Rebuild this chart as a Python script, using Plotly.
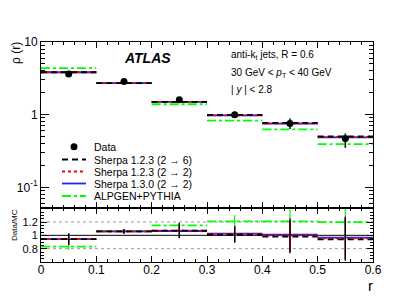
import plotly.graph_objects as go

# ---- data ----
bin_edges = [0.0, 0.1, 0.2, 0.3, 0.4, 0.5, 0.6]
bin_centers = [0.05, 0.15, 0.25, 0.35, 0.45, 0.55]
data_vals = [3.62, 2.87, 1.60, 1.00, 0.757, 0.47]
data_err_up = [0.15, 0.08, 0.06, 0.10, 0.13, 0.08]
data_err_dn = [0.15, 0.08, 0.06, 0.10, 0.12, 0.12]

sherpa26 = [3.835, 2.708, 1.495, 0.990, 0.772, 0.500]
sherpa22 = [3.835, 2.708, 1.495, 0.980, 0.757, 0.492]
sherpa130 = [3.835, 2.708, 1.502, 0.976, 0.750, 0.487]
alpgen = [4.36, 2.708, 1.391, 0.826, 0.626, 0.392]

ratio_err_sherpa = [0.085, 0.035, 0.11, 0.12, 0.25, 0.32]
ratio_err_alpgen = [0.045, 0.03, 0.05, 0.09, 0.18, 0.20]

y_ticks_top = [0.1, 1, 10]
y_ticktext_top = ["10<sup>-1</sup>", "1", "10"]
y_ticks_ratio = [0.8, 1.0, 1.2]
y_ticktext_ratio = ["0.8", "1", "1.2"]

legend_names = ["Data", "Sherpa 1.2.3 (2 \u2192 6)", "Sherpa 1.2.3 (2 \u2192 2)",
                "Sherpa 1.3.0 (2 \u2192 2)", "ALPGEN+PYTHIA"]

FONT = "Liberation Sans, Arial, Helvetica, sans-serif"

# page body has an 8px default margin: compensate so the chart sits where the reference is
OFF = 8
W, H = 415, 298
PLOT_L, PLOT_T, PLOT_R, PLOT_B = 41, 42, 373, 262   # target window pixels
ML, MT = PLOT_L - OFF, PLOT_T - OFF
PW, PH = PLOT_R - PLOT_L, PLOT_B - PLOT_T
MR, MB = W - ML - PW, H - MT - PH


def px(x):
    return (x - PLOT_L) / PW


def py(y):
    return (PLOT_B - y) / PH


def steps(vals):
    xs, ys = [], []
    for i, v in enumerate(vals):
        xs += [bin_edges[i], bin_edges[i + 1], None]
        ys += [v, v, None]
    return xs, ys


mc_styles = [
    ("ALPGEN+PYTHIA", alpgen, dict(color="#00ff00", width=1.8, dash="dashdot")),
    ("Sherpa 1.3.0", sherpa130, dict(color="#2222ff", width=1.8, dash="solid")),
    ("Sherpa 1.2.3 22", sherpa22, dict(color="#ff0000", width=1.8, dash="dot")),
    ("Sherpa 1.2.3 26", sherpa26, dict(color="black", width=1.8, dash="6px,4px")),
]

fig = go.Figure()

for name, vals, ln in mc_styles:
    xs, ys = steps(vals)
    fig.add_trace(go.Scatter(x=xs, y=ys, mode="lines", line=ln, xaxis="x", yaxis="y",
                             showlegend=False, hoverinfo="skip"))

fig.add_trace(go.Scatter(
    x=bin_centers, y=data_vals, mode="markers",
    marker=dict(color="black", size=7),
    error_y=dict(type="data", symmetric=False, array=data_err_up, arrayminus=data_err_dn,
                 color="black", thickness=1.5, width=0),
    xaxis="x", yaxis="y", showlegend=False))

# ratio panel
for name, vals, ln in mc_styles:
    ratio = [d / m for d, m in zip(data_vals, vals)]
    xs, ys = steps(ratio)
    fig.add_trace(go.Scatter(x=xs, y=ys, mode="lines", line=ln, xaxis="x2", yaxis="y2",
                             showlegend=False, hoverinfo="skip"))
    errs = ratio_err_alpgen if name.startswith("ALPGEN") else ratio_err_sherpa
    fig.add_trace(go.Scatter(
        x=bin_centers, y=ratio, mode="markers", marker=dict(size=1, color=ln["color"], opacity=0),
        error_y=dict(type="data", array=errs, color=ln["color"], thickness=1.3, width=0),
        xaxis="x2", yaxis="y2", showlegend=False, hoverinfo="skip"))

split = 54 / PH

axis_common = dict(showline=True, linecolor="black", linewidth=1, mirror="allticks",
                   ticks="inside", tickcolor="black", showgrid=False, zeroline=False,
                   tickfont=dict(family=FONT, size=12, color="black"))

fig.update_layout(
    width=W, height=H,
    margin=dict(l=ML, r=MR, t=MT, b=MB, autoexpand=False),
    paper_bgcolor="white", plot_bgcolor="white",
    showlegend=False,
    xaxis=dict(axis_common, domain=[0, 1], range=[0, 0.6], anchor="y", showticklabels=False,
               dtick=0.1, ticklen=6, minor=dict(ticks="inside", dtick=0.02, ticklen=3,
                                                  tickcolor="black")),
    yaxis=dict(axis_common, domain=[split, 1], type="log", range=[-1.285, 1], anchor="x",
               tickvals=y_ticks_top, ticktext=y_ticktext_top, ticklen=8,
               minor=dict(ticks="inside", ticklen=4, tickcolor="black", dtick="D1")),
    xaxis2=dict(axis_common, domain=[0, 1], range=[0, 0.6], anchor="y2", dtick=0.1, ticklen=6,
                ticklabelstandoff=-3,
                minor=dict(ticks="inside", dtick=0.02, ticklen=3, tickcolor="black")),
    yaxis2=dict(axis_common, domain=[0, split], range=[0.6, 1.41], anchor="x2",
                tickvals=y_ticks_ratio, ticktext=y_ticktext_ratio, ticklen=6,
                tickfont=dict(family=FONT, size=11, color="black"),
                minor=dict(ticks="inside", dtick=0.05, ticklen=3, tickcolor="black")),
)

# reference lines in ratio panel
fig.add_shape(type="line", xref="x2 domain", yref="y2", x0=0, x1=1, y0=1, y1=1,
              line=dict(color="black", width=1), layer="below")
for yv in (0.8, 1.2):
    fig.add_shape(type="line", xref="x2 domain", yref="y2", x0=0, x1=1, y0=yv, y1=yv,
                  line=dict(color="#999999", width=1, dash="dot"), layer="below")

ann = []
ann.append(dict(text="<b><i>ATLAS</i></b>", x=px(147), y=py(58), xref="paper", yref="paper",
                xanchor="center", yanchor="middle",
                showarrow=False, font=dict(family=FONT, size=14, color="black")))
labels = ["anti-k<sub>t</sub> jets, R = 0.6",
          "30 GeV < <i>p</i><sub>T</sub> < 40 GeV",
          "| <i>y</i> | < 2.8"]
for t, yy in zip(labels, [55, 73, 89]):
    ann.append(dict(text=t, x=px(229), y=py(yy), xref="paper", yref="paper", xanchor="left",
                    yanchor="middle", showarrow=False, font=dict(family=FONT, size=10, color="black")))

ann.append(dict(text="\u03c1 (r)", x=px(16), y=py(53), xref="paper", yref="paper", textangle=-90,
                xanchor="center", yanchor="middle",
                showarrow=False, font=dict(family=FONT, size=12, color="black")))
ann.append(dict(text="Data/MC", x=px(14), y=py(225), xref="paper", yref="paper", textangle=-90,
                xanchor="center", yanchor="middle",
                showarrow=False, font=dict(family=FONT, size=8, color="black")))
ann.append(dict(text="r", x=px(370), y=py(275), xref="paper", yref="paper", yanchor="top",
                xanchor="center", showarrow=False, font=dict(family=FONT, size=15, color="black")))

# manual legend
leg_y = [146.7, 159.5, 171.5, 183.5, 196]
leg_lines = [None,
             dict(color="black", width=1.8, dash="6px,4px"),
             dict(color="#ff0000", width=1.8, dash="dot"),
             dict(color="#2222ff", width=1.8, dash="solid"),
             dict(color="#00ff00", width=1.8, dash="dashdot")]
for name, yy, ln in zip(legend_names, leg_y, leg_lines):
    if ln is None:
        fig.add_shape(type="circle", xref="paper", yref="paper",
                      x0=px(70.5), x1=px(77.5), y0=py(yy + 3.5), y1=py(yy - 3.5),
                      fillcolor="black", line=dict(color="black", width=0))
    else:
        fig.add_shape(type="line", xref="paper", yref="paper", x0=px(62), x1=px(86),
                      y0=py(yy), y1=py(yy), line=ln)
    ann.append(dict(text=name, x=px(92), y=py(yy), xref="paper", yref="paper", xanchor="left",
                    yanchor="middle", showarrow=False, font=dict(family=FONT, size=10.5, color="black")))

fig.update_layout(annotations=ann)
fig.write_html("out.html")
